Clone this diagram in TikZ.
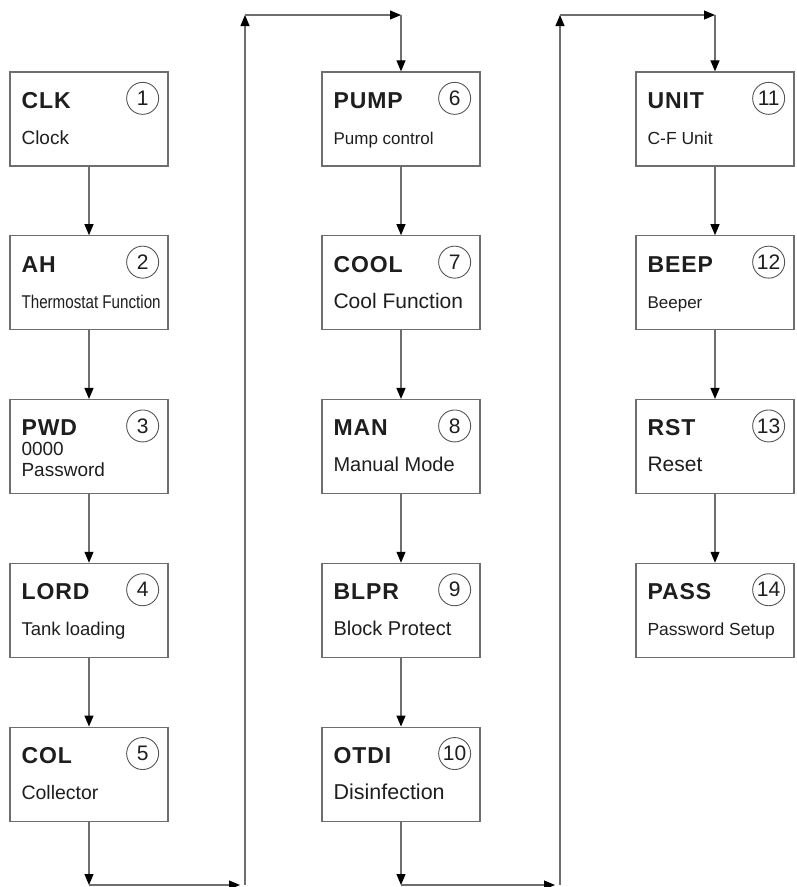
\documentclass[tikz,border=0pt]{standalone}
\usepackage{fontspec}
\setmainfont{Liberation Sans}
\newfontfamily\titlefont[LetterSpace=4]{Liberation Sans}
\newfontfamily\narrowfont[FakeStretch=0.82]{Liberation Sans}
\usepackage{tikz}
\usetikzlibrary{positioning, arrows.meta, calc}
\definecolor{linegray}{HTML}{6E6E6E}
\definecolor{textdark}{HTML}{1E1E1E}

\tikzset{
  menubox/.style={draw=linegray, line width=1.3pt, minimum width=158pt, minimum height=94pt, inner sep=0pt},
  titletext/.style={anchor=base west, inner sep=0pt, text=textdark, font=\titlefont\bfseries\fontsize{23}{23}\selectfont},
  numcircle/.style={circle, draw=textdark!75, line width=0.9pt, minimum size=32pt, inner sep=0pt, text=textdark, font=\fontsize{21}{21}\selectfont},
  desctext/.style={anchor=base west, inner sep=0pt, text=textdark},
  flow/.style={draw=linegray, line width=1.2pt, -{Triangle[length=11pt, width=9pt, color=black]}},
}

\newcommand{\menuitem}[6]{%
  \node[menubox, #2] (#1) {};
  \node[titletext] (#1-title) at ($(#1.north west)+(12,-37)$) {#3};
  \node[numcircle] (#1-num) at ($(#1.north east)+(-26,-27)$) {#4};
  \node[desctext, font=\fontsize{#5}{#5}\selectfont] (#1-desc) at ($(#1.north west)+(12,-73)$) {#6};
}

\begin{document}
\begin{tikzpicture}[x=1pt, y=1pt, node distance=68.5pt]
    \useasboundingbox (0,0) rectangle (796,-887);

    \menuitem{clk}{at={(89,-119)}}{CLK}{1}{19}{Clock}
    \menuitem{ah}{below=of clk}{AH}{2}{18.5}{\narrowfont Thermostat Function}
    \menuitem{pwd}{below=of ah}{PWD}{3}{19}{\raisebox{-5pt}{\begin{tabular}[b]{@{}l@{}}0000\\[2pt]Password\end{tabular}}}
    \menuitem{lord}{below=of pwd}{LORD}{4}{18.5}{Tank loading}
    \menuitem{col}{below=of lord}{COL}{5}{19.5}{Collector}

    \menuitem{pump}{at={(401,-119)}}{PUMP}{6}{17}{Pump control}
    \menuitem{cool}{below=of pump}{COOL}{7}{21}{Cool Function}
    \menuitem{man}{below=of cool}{MAN}{8}{20}{Manual Mode}
    \menuitem{blpr}{below=of man}{BLPR}{9}{20}{Block Protect}
    \menuitem{otdi}{below=of blpr}{OTDI}{10}{21.5}{Disinfection}

    \menuitem{unit}{at={(715,-119)}}{UNIT}{11}{17.5}{C-F Unit}
    \menuitem{beep}{below=of unit}{BEEP}{12}{17}{Beeper}
    \menuitem{rst}{below=of beep}{RST}{13}{21}{Reset}
    \menuitem{pass}{below=of rst}{PASS}{14}{17.5}{Password Setup}

    \draw[flow] (clk) -- (ah);
    \draw[flow] (ah) -- (pwd);
    \draw[flow] (pwd) -- (lord);
    \draw[flow] (lord) -- (col);
    \draw[flow] (pump) -- (cool);
    \draw[flow] (cool) -- (man);
    \draw[flow] (man) -- (blpr);
    \draw[flow] (blpr) -- (otdi);
    \draw[flow] (unit) -- (beep);
    \draw[flow] (beep) -- (rst);
    \draw[flow] (rst) -- (pass);

    \coordinate (turnA) at (245,-885);
    \coordinate (topA) at (245,-15);
    \coordinate (turnB) at (560,-885);
    \coordinate (topB) at (560,-15);

    \draw[flow] (col) -- (col |- turnA);
    \draw[flow] (col |- turnA) -- ([xshift=-5pt]turnA);
    \draw[flow] (turnA) -- (topA);
    \draw[flow] (topA) -- (pump |- topA);
    \draw[flow] (pump |- topA) -- (pump);

    \draw[flow] (otdi) -- (otdi |- turnB);
    \draw[flow] (otdi |- turnB) -- ([xshift=-5pt]turnB);
    \draw[flow] (turnB) -- (topB);
    \draw[flow] (topB) -- (unit |- topB);
    \draw[flow] (unit |- topB) -- (unit);
\end{tikzpicture}
\end{document}
